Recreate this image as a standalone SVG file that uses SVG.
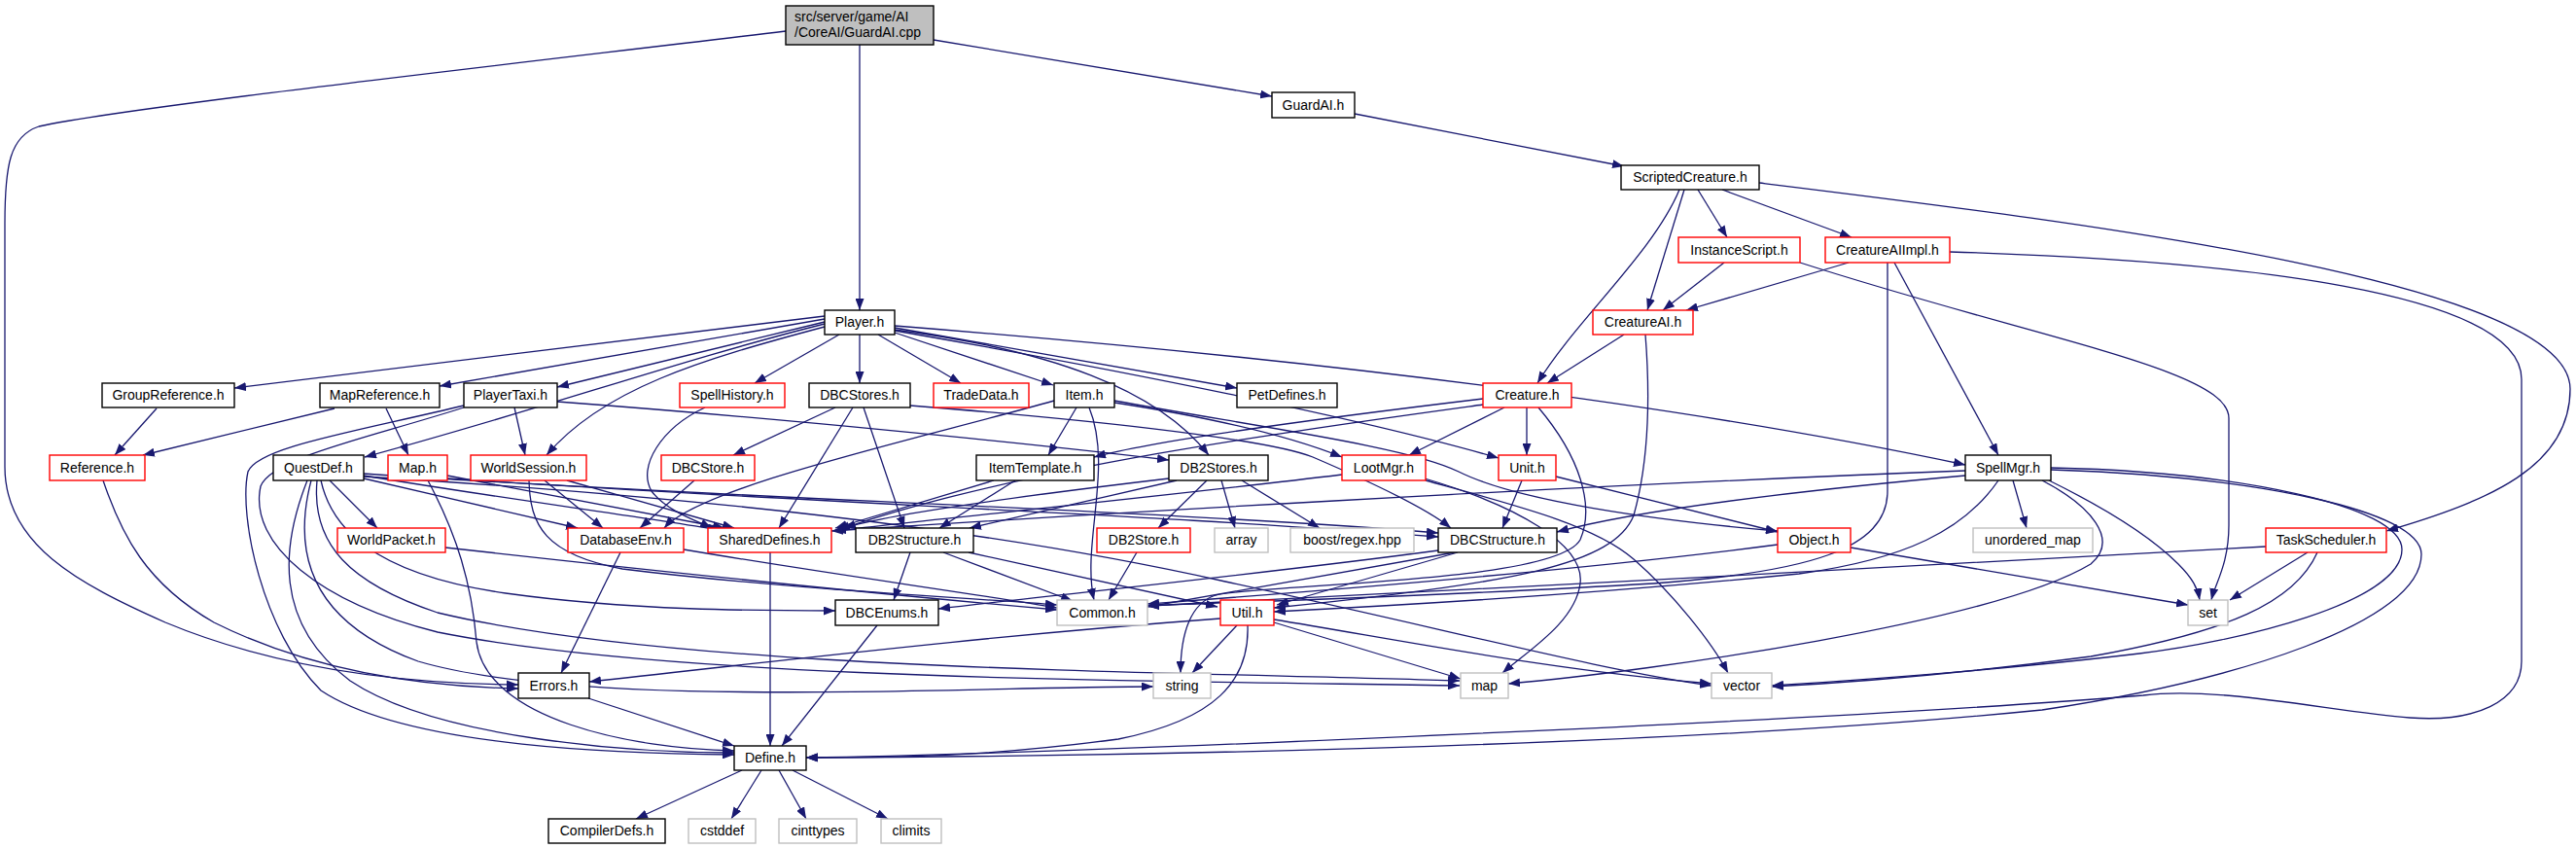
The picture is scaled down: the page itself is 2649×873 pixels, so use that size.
<svg xmlns="http://www.w3.org/2000/svg" width="2649" height="873" viewBox="0 0 2649 873">
<style>
.e{fill:none;stroke:#191970;stroke-width:1.3;marker-end:url(#a)}
.n rect{fill:#fff;stroke:#000;stroke-width:1.4}
.r rect{stroke:#ff0000}
.g rect{stroke:#bfbfbf}
text{font-family:"Liberation Sans",Arial,sans-serif;font-size:14px;text-anchor:middle;fill:#000}
</style>
<defs>
<marker id="a" viewBox="0 0 12 9" refX="12" refY="4.5" markerWidth="12" markerHeight="9" markerUnits="userSpaceOnUse" orient="auto"><path d="M0,0 L12,4.5 L0,9 z" fill="#191970"/></marker>
</defs>
<rect width="2649" height="873" fill="#fff"/>
<g id="edges">
<path class="e" d="M884,46 L884,319"/>
<path class="e" d="M960,41 L1308,99"/>
<path class="e" d="M1393,117 L1670,171"/>
<path class="e" d="M808,32 C560,62 130,110 40,130 C10,140 5,170 5,230 L5,480 C5,560 80,600 170,640 C290,690 420,703 533,704"/>
<path class="e" d="M1727,195 C1700,260 1620,330 1581,394"/>
<path class="e" d="M1732,195 L1694,319"/>
<path class="e" d="M1746,195 L1776,244"/>
<path class="e" d="M1771,195 L1904,244"/>
<path class="e" d="M1809,188 C2150,230 2643,290 2643,400 C2643,480 2560,515 2454,546"/>
<path class="e" d="M1773,270 L1710,319"/>
<path class="e" d="M1851,270 C2100,350 2292,380 2292,430 L2292,540 C2292,580 2278,600 2274,617"/>
<path class="e" d="M1901,270 L1734,319"/>
<path class="e" d="M1948,270 L2055,468"/>
<path class="e" d="M1941,270 L1941,505 C1941,565 1860,588 1700,600 C1500,612 1300,618 1180,623"/>
<path class="e" d="M2005,259 C2300,268 2593,300 2593,390 L2593,680 C2593,722 2545,743 2478,738 C2400,732 2280,705 2204,715 C1900,740 1100,775 829,779"/>
<path class="e" d="M1670,344 L1591,394"/>
<path class="e" d="M1692,344 C1698,420 1694,480 1680,530 C1660,580 1560,600 1310,625"/>
<path class="e" d="M1570,419 L1570,468"/>
<path class="e" d="M1547,419 L1449,468"/>
<path class="e" d="M1525,410 C1400,425 1200,450 1125,470"/>
<path class="e" d="M1525,416 C1350,440 1050,480 868,543"/>
<path class="e" d="M1582,419 C1625,470 1640,520 1625,555 C1600,600 1300,600 1250,612 C1225,620 1214,650 1214,692"/>
<path class="e" d="M1565,494 L1545,543"/>
<path class="e" d="M1600,490 L1828,547"/>
<path class="e" d="M848,325 L241,399"/>
<path class="e" d="M848,328 L452,397"/>
<path class="e" d="M848,331 L573,398"/>
<path class="e" d="M848,333 C700,370 560,420 375,470"/>
<path class="e" d="M848,336 C720,370 620,400 562,468"/>
<path class="e" d="M863,344 L776,394"/>
<path class="e" d="M884,344 L884,394"/>
<path class="e" d="M903,344 L988,394"/>
<path class="e" d="M920,342 L1083,396"/>
<path class="e" d="M920,337 L1272,399"/>
<path class="e" d="M920,339 C1080,360 1190,400 1243,468"/>
<path class="e" d="M920,340 C1150,380 1400,430 1541,471"/>
<path class="e" d="M920,335 C1300,365 1700,410 2021,478"/>
<path class="e" d="M725,419 C680,440 655,480 670,505 C685,525 715,535 732,543"/>
<path class="e" d="M859,419 L754,468"/>
<path class="e" d="M877,419 L801,543"/>
<path class="e" d="M888,419 L930,543"/>
<path class="e" d="M936,417 C1100,430 1300,450 1350,470 C1420,500 1470,525 1492,543"/>
<path class="e" d="M573,413 C800,430 1050,455 1202,473"/>
<path class="e" d="M529,419 L540,468"/>
<path class="e" d="M477,417 C360,445 265,460 255,485 C245,530 270,650 330,710 C420,770 650,775 755,776"/>
<path class="e" d="M477,419 C380,450 280,470 268,500 C255,560 330,620 450,650 C700,700 1200,700 1501,705"/>
<path class="e" d="M344,420 L147,468"/>
<path class="e" d="M397,420 L420,468"/>
<path class="e" d="M161,420 L118,468"/>
<path class="e" d="M106,494 C125,550 150,600 220,640 C320,690 430,706 533,708"/>
<path class="e" d="M339,494 L388,543"/>
<path class="e" d="M374,492 L594,543"/>
<path class="e" d="M374,489 C500,510 650,530 740,545"/>
<path class="e" d="M374,487 C700,510 1200,525 1479,548"/>
<path class="e" d="M374,490 C700,510 1000,540 1260,598 C1500,650 1650,690 1760,705"/>
<path class="e" d="M316,494 C290,560 280,640 360,700 C450,760 650,774 755,774"/>
<path class="e" d="M320,494 C300,570 320,640 430,680 C600,730 1000,706 1186,706"/>
<path class="e" d="M326,494 C320,560 360,600 450,630 C700,690 1200,690 1501,700"/>
<path class="e" d="M330,494 C340,540 380,590 520,610 C650,628 780,628 859,628"/>
<path class="e" d="M460,489 L745,543"/>
<path class="e" d="M440,494 C470,550 485,600 490,660 C500,740 650,770 755,772"/>
<path class="e" d="M460,492 C800,515 1200,530 1479,552"/>
<path class="e" d="M560,494 L620,543"/>
<path class="e" d="M583,494 L755,543"/>
<path class="e" d="M544,494 C545,540 560,570 640,585 C800,605 1000,615 1087,622"/>
<path class="e" d="M458,563 C700,590 950,615 1087,627"/>
<path class="e" d="M638,568 L577,692"/>
<path class="e" d="M703,565 C850,590 1000,610 1087,625"/>
<path class="e" d="M714,494 L658,543"/>
<path class="e" d="M1107,419 L1078,468"/>
<path class="e" d="M1084,412 C950,450 720,500 683,543"/>
<path class="e" d="M1120,419 C1145,480 1112,560 1125,617"/>
<path class="e" d="M1146,414 C1250,430 1330,450 1380,470"/>
<path class="e" d="M1146,412 C1300,440 1450,460 1500,485 C1560,515 1700,535 1828,546"/>
<path class="e" d="M1022,494 L859,543"/>
<path class="e" d="M1044,494 L966,543"/>
<path class="e" d="M1241,494 L1191,543"/>
<path class="e" d="M1256,494 L1270,543"/>
<path class="e" d="M1277,494 L1357,543"/>
<path class="e" d="M1202,492 C1050,510 900,530 862,545"/>
<path class="e" d="M1210,494 L997,543"/>
<path class="e" d="M1380,488 C1200,510 950,535 858,546"/>
<path class="e" d="M1465,492 C1560,520 1630,560 1625,600 C1620,640 1570,670 1545,692"/>
<path class="e" d="M1466,494 C1560,520 1640,540 1680,575 C1720,610 1760,660 1777,692"/>
<path class="e" d="M1479,566 C1300,590 1100,610 965,626"/>
<path class="e" d="M1496,568 L1180,624"/>
<path class="e" d="M1499,568 L1313,622"/>
<path class="e" d="M1828,560 C1600,590 1300,612 1180,621"/>
<path class="e" d="M1903,563 L2250,622"/>
<path class="e" d="M2070,494 L2084,543"/>
<path class="e" d="M2107,494 C2170,525 2215,555 2240,580 C2255,595 2260,605 2262,617"/>
<path class="e" d="M2021,484 C1600,500 1100,530 855,546"/>
<path class="e" d="M2021,489 C1900,500 1700,520 1601,547"/>
<path class="e" d="M2055,494 C2020,545 1960,575 1850,590 C1650,610 1450,622 1310,629"/>
<path class="e" d="M2100,494 C2150,520 2180,555 2150,580 C2050,640 1700,690 1551,703"/>
<path class="e" d="M2109,481 C2300,485 2470,520 2470,565 C2470,620 2300,660 2200,672 C2050,690 1900,700 1822,705"/>
<path class="e" d="M2109,483 C2320,490 2490,525 2490,570 C2490,640 2300,700 2100,730 C1700,770 1100,778 829,779"/>
<path class="e" d="M2373,568 L2293,617"/>
<path class="e" d="M2383,568 C2360,620 2290,650 2150,675 C2000,695 1900,702 1822,706"/>
<path class="e" d="M2330,562 C2000,580 1500,608 1180,623"/>
<path class="e" d="M1255,636 C1000,655 800,680 606,701"/>
<path class="e" d="M1272,643 L1226,692"/>
<path class="e" d="M1310,640 L1502,698"/>
<path class="e" d="M1310,637 C1450,660 1600,690 1760,703"/>
<path class="e" d="M1283,643 C1285,700 1250,740 1150,760 C1000,780 900,779 829,779"/>
<path class="e" d="M605,718 L755,767"/>
<path class="e" d="M902,643 L804,767"/>
<path class="e" d="M792,568 L792,767"/>
<path class="e" d="M763,792 L654,842"/>
<path class="e" d="M783,792 L752,842"/>
<path class="e" d="M801,792 L829,842"/>
<path class="e" d="M815,792 L913,842"/>
<path class="e" d="M936,568 L919,617"/>
<path class="e" d="M970,568 L1103,618"/>
<path class="e" d="M996,568 L1252,624"/>
<path class="e" d="M1169,568 L1140,617"/>
</g>
<g id="n0" class="n"><rect x="808" y="6" width="152" height="40" style="fill:#bfbfbf"/><text x="817" y="22" style="text-anchor:start">src/server/game/AI</text><text x="817" y="38" style="text-anchor:start">/CoreAI/GuardAI.cpp</text></g>
<g id="n1" class="n"><rect x="1308" y="95" width="85" height="26"/><text x="1350.5" y="112.5">GuardAI.h</text></g>
<g id="n2" class="n"><rect x="1667" y="170" width="142" height="25"/><text x="1738" y="187">ScriptedCreature.h</text></g>
<g id="n3" class="n r"><rect x="1726" y="244" width="125" height="26"/><text x="1788.5" y="261.5">InstanceScript.h</text></g>
<g id="n4" class="n r"><rect x="1877" y="244" width="128" height="26"/><text x="1941" y="261.5">CreatureAIImpl.h</text></g>
<g id="n5" class="n"><rect x="848" y="319" width="72" height="25"/><text x="884" y="336">Player.h</text></g>
<g id="n6" class="n r"><rect x="1638" y="319" width="103" height="25"/><text x="1689.5" y="336">CreatureAI.h</text></g>
<g id="n7" class="n"><rect x="105" y="394" width="136" height="25"/><text x="173" y="411">GroupReference.h</text></g>
<g id="n8" class="n"><rect x="329" y="394" width="123" height="25"/><text x="390.5" y="411">MapReference.h</text></g>
<g id="n9" class="n"><rect x="477" y="394" width="96" height="25"/><text x="525" y="411">PlayerTaxi.h</text></g>
<g id="n10" class="n r"><rect x="699" y="394" width="108" height="25"/><text x="753" y="411">SpellHistory.h</text></g>
<g id="n11" class="n"><rect x="832" y="394" width="104" height="25"/><text x="884" y="411">DBCStores.h</text></g>
<g id="n12" class="n r"><rect x="960" y="394" width="98" height="25"/><text x="1009" y="411">TradeData.h</text></g>
<g id="n13" class="n"><rect x="1084" y="394" width="62" height="25"/><text x="1115" y="411">Item.h</text></g>
<g id="n14" class="n"><rect x="1272" y="394" width="103" height="25"/><text x="1323.5" y="411">PetDefines.h</text></g>
<g id="n15" class="n r"><rect x="1525" y="394" width="91" height="25"/><text x="1570.5" y="411">Creature.h</text></g>
<g id="n16" class="n r"><rect x="51" y="468" width="98" height="26"/><text x="100" y="485.5">Reference.h</text></g>
<g id="n17" class="n"><rect x="281" y="468" width="93" height="26"/><text x="327.5" y="485.5">QuestDef.h</text></g>
<g id="n18" class="n r"><rect x="399" y="468" width="61" height="26"/><text x="429.5" y="485.5">Map.h</text></g>
<g id="n19" class="n r"><rect x="484" y="468" width="119" height="26"/><text x="543.5" y="485.5">WorldSession.h</text></g>
<g id="n20" class="n r"><rect x="680" y="468" width="96" height="26"/><text x="728" y="485.5">DBCStore.h</text></g>
<g id="n21" class="n"><rect x="1004" y="468" width="121" height="26"/><text x="1064.5" y="485.5">ItemTemplate.h</text></g>
<g id="n22" class="n"><rect x="1202" y="468" width="102" height="26"/><text x="1253" y="485.5">DB2Stores.h</text></g>
<g id="n23" class="n r"><rect x="1380" y="468" width="86" height="26"/><text x="1423" y="485.5">LootMgr.h</text></g>
<g id="n24" class="n r"><rect x="1541" y="468" width="59" height="26"/><text x="1570.5" y="485.5">Unit.h</text></g>
<g id="n25" class="n"><rect x="2021" y="468" width="88" height="26"/><text x="2065" y="485.5">SpellMgr.h</text></g>
<g id="n26" class="n r"><rect x="347" y="543" width="111" height="25"/><text x="402.5" y="560">WorldPacket.h</text></g>
<g id="n27" class="n r"><rect x="584" y="543" width="119" height="25"/><text x="643.5" y="560">DatabaseEnv.h</text></g>
<g id="n28" class="n r"><rect x="728" y="543" width="127" height="25"/><text x="791.5" y="560">SharedDefines.h</text></g>
<g id="n29" class="n"><rect x="880" y="543" width="121" height="25"/><text x="940.5" y="560">DB2Structure.h</text></g>
<g id="n30" class="n r"><rect x="1128" y="543" width="96" height="25"/><text x="1176" y="560">DB2Store.h</text></g>
<g id="n31" class="n g"><rect x="1249" y="543" width="55" height="25"/><text x="1276.5" y="560">array</text></g>
<g id="n32" class="n g"><rect x="1327" y="543" width="127" height="25"/><text x="1390.5" y="560">boost/regex.hpp</text></g>
<g id="n33" class="n"><rect x="1479" y="543" width="122" height="25"/><text x="1540" y="560">DBCStructure.h</text></g>
<g id="n34" class="n r"><rect x="1828" y="543" width="75" height="25"/><text x="1865.5" y="560">Object.h</text></g>
<g id="n35" class="n g"><rect x="2029" y="543" width="123" height="25"/><text x="2090.5" y="560">unordered_map</text></g>
<g id="n36" class="n r"><rect x="2330" y="543" width="124" height="25"/><text x="2392" y="560">TaskScheduler.h</text></g>
<g id="n37" class="n"><rect x="859" y="617" width="106" height="26"/><text x="912" y="634.5">DBCEnums.h</text></g>
<g id="n38" class="n g"><rect x="1087" y="617" width="93" height="26"/><text x="1133.5" y="634.5">Common.h</text></g>
<g id="n39" class="n r"><rect x="1255" y="617" width="55" height="26"/><text x="1282.5" y="634.5">Util.h</text></g>
<g id="n40" class="n g"><rect x="2250" y="617" width="41" height="26"/><text x="2270.5" y="634.5">set</text></g>
<g id="n41" class="n"><rect x="533" y="692" width="73" height="26"/><text x="569.5" y="709.5">Errors.h</text></g>
<g id="n42" class="n g"><rect x="1186" y="692" width="59" height="26"/><text x="1215.5" y="709.5">string</text></g>
<g id="n43" class="n g"><rect x="1502" y="692" width="49" height="26"/><text x="1526.5" y="709.5">map</text></g>
<g id="n44" class="n g"><rect x="1760" y="692" width="62" height="26"/><text x="1791" y="709.5">vector</text></g>
<g id="n45" class="n"><rect x="755" y="767" width="74" height="25"/><text x="792" y="784">Define.h</text></g>
<g id="n46" class="n"><rect x="564" y="842" width="120" height="25"/><text x="624" y="859">CompilerDefs.h</text></g>
<g id="n47" class="n g"><rect x="708" y="842" width="69" height="25"/><text x="742.5" y="859">cstddef</text></g>
<g id="n48" class="n g"><rect x="801" y="842" width="80" height="25"/><text x="841" y="859">cinttypes</text></g>
<g id="n49" class="n g"><rect x="906" y="842" width="62" height="25"/><text x="937" y="859">climits</text></g>
</svg>
